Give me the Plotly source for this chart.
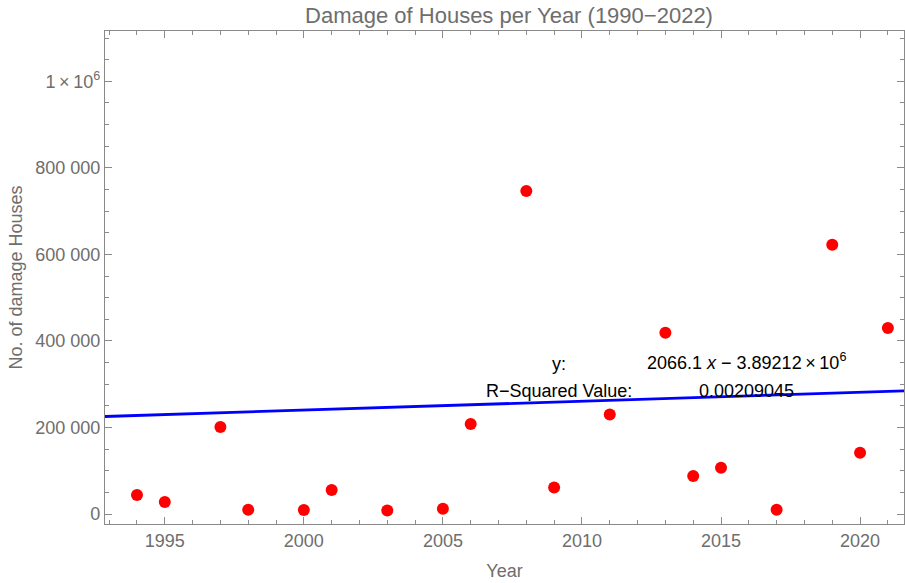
import plotly.graph_objects as go

years = [1994, 1995, 1997, 1998, 2000, 2001, 2003, 2005, 2006, 2008, 2009,
         2011, 2013, 2014, 2015, 2017, 2019, 2020, 2021]
damaged = [43900, 27700, 201000, 9900, 9200, 55400, 8300, 12200, 207900, 746700,
           61400, 230000, 419000, 87800, 106900, 9900, 622000, 141600, 430000]

slope = 2066.1
intercept = -3.89212e6
r_squared = "0.00209045"

x_range = [1992.85, 2021.58]
y_range = [-23100, 1116200]

x_tickvals = [1995, 2000, 2005, 2010, 2015, 2020]
y_tickvals = [0, 200000, 400000, 600000, 800000, 1000000]
y_ticktext = ["0", "200 000", "400 000", "600 000", "800 000", "1\u2009×\u200910<sup>6</sup>"]

font_family = "Liberation Sans, Arial, sans-serif"
gray = "#6e6e6e"
frame = "#8a8a8a"

fig = go.Figure()
fig.add_trace(go.Scatter(
    x=x_range, y=[slope * v + intercept for v in x_range],
    mode="lines", line=dict(color="#0000ff", width=2.8), hoverinfo="skip"))
fig.add_trace(go.Scatter(
    x=years, y=damaged, mode="markers",
    marker=dict(color="#ff0000", size=12, line=dict(width=0))))

axis_common = dict(
    automargin=False,
    showgrid=False, zeroline=False, showline=True, linecolor=frame, linewidth=1.3,
    mirror="allticks", ticks="inside", tickcolor=frame, ticklen=7, tickwidth=1,
    tickfont=dict(family=font_family, size=18, color=gray),
)

fig.update_xaxes(range=x_range, tickmode="array", tickvals=x_tickvals,
                 minor=dict(dtick=1, tick0=1990, ticks="inside", ticklen=4, tickcolor=frame),
                 title=dict(text="Year", font=dict(family=font_family, size=18, color=gray), standoff=14),
                 **axis_common)
fig.update_yaxes(range=y_range, tickmode="array", tickvals=y_tickvals, ticktext=y_ticktext,
                 minor=dict(dtick=50000, tick0=0, ticks="inside", ticklen=4, tickcolor=frame),
                 title=dict(text="No. of damage Houses", font=dict(family=font_family, size=18, color=gray), standoff=7),
                 **axis_common)

def px_x(p):
    return (p - 105) / 799

def px_y(p):
    return (524 - p) / 493

ann_font = dict(family=font_family, size=18, color="black")
ann_common = dict(xref="paper", yref="paper", showarrow=False, font=ann_font,
                  xanchor="center", yanchor="middle")
fig.update_layout(
    width=905, height=583,
    margin=dict(l=105, r=1, t=31, b=59, autoexpand=False),
    plot_bgcolor="white", paper_bgcolor="white",
    showlegend=False,
    title=dict(text="Damage of Houses per Year (1990−2022)", x=509 / 905, xanchor="center",
               y=1 - 15 / 583, yanchor="middle",
               font=dict(family=font_family, size=22, color=gray)),
    annotations=[
        dict(text="y:", x=px_x(559), y=px_y(364), **ann_common),
        dict(text="2066.1 <i>x</i> − 3.89212\u2009×\u200910<sup>6</sup>", x=px_x(746), y=px_y(361), **ann_common),
        dict(text="R−Squared Value:", x=px_x(559), y=px_y(391), **ann_common),
        dict(text=r_squared, x=px_x(746), y=px_y(391), **ann_common),
    ],
)

fig.write_html("out.html", config={"displayModeBar": False},
               post_script="document.body.style.margin='0';document.body.style.overflow='hidden';")
